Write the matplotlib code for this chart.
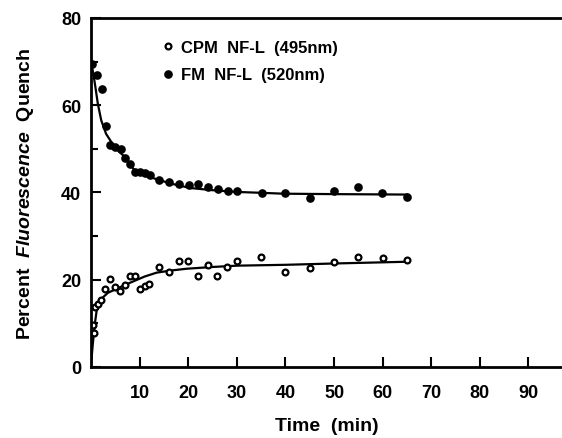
import numpy as np
import matplotlib
matplotlib.use("Agg")
import matplotlib.pyplot as plt

plt.rcParams['font.family'] = 'Liberation Sans'
plt.rcParams['font.weight'] = 'bold'
plt.rcParams['mathtext.fontset'] = 'custom'
plt.rcParams['mathtext.rm'] = 'Liberation Sans:bold'
plt.rcParams['mathtext.it'] = 'Liberation Sans:italic:bold'

# FM NF-L (520nm), filled circles
fm_t = [0.1, 1.2, 2.2, 3.1, 3.9, 4.9, 6.1, 7.0, 8.0, 9.1, 10.1, 11.1, 12.1,
        14.0, 16.0, 18.1, 20.2, 22.0, 24.1, 26.1, 28.2, 30.0, 35.1, 40.0,
        45.1, 50.0, 54.9, 59.9, 65.0]
fm_q = [69.5, 66.8, 63.8, 55.3, 50.8, 50.5, 50.0, 47.9, 46.6, 44.7, 44.7, 44.5, 44.0,
        42.9, 42.4, 42.0, 41.7, 42.0, 41.3, 40.8, 40.4, 40.4, 39.9, 39.9,
        38.8, 40.3, 41.2, 39.9, 38.9]

# CPM NF-L (495nm), open circles
cpm_t = [0.4, 0.6, 0.9, 1.4, 2.0, 2.9, 4.0, 4.9, 6.0, 7.0, 8.0, 9.0, 10.0, 11.0, 12.0,
         14.0, 16.0, 18.0, 20.0, 22.0, 24.0, 26.0, 28.0, 30.0, 35.0, 40.0,
         45.0, 50.0, 55.0, 60.0, 65.0]
cpm_q = [9.5, 7.7, 13.7, 14.5, 15.3, 17.8, 20.1, 18.3, 17.5, 18.8, 20.9, 20.9, 17.9, 18.5, 19.0,
         22.8, 21.7, 24.2, 24.2, 20.9, 23.4, 20.9, 22.8, 24.2, 25.2, 21.8,
         22.6, 24.0, 25.1, 24.9, 24.6]

# fitted curves
fm_fit_t = [0.0, 0.5, 0.9, 1.4, 2.1, 3.1, 4.2, 5.3, 6.6, 7.6, 8.7, 10.5, 13.5, 16.5,
            20.4, 25.0, 30.0, 35.0, 39.6, 50.0, 65.0]
fm_fit_q = [70.0, 67.0, 64.1, 60.3, 56.5, 53.4, 51.5, 49.8, 48.5, 46.9, 45.4, 44.2, 43.0, 42.0,
            41.0, 40.5, 40.1, 39.9, 39.7, 39.6, 39.5]
cpm_fit_t = [0.0, 0.15, 0.3, 0.5, 0.8, 1.2, 1.8, 2.5, 3.5, 5.3, 7.0, 8.7, 11.0, 13.5,
             16.5, 19.7, 25.0, 30.0, 40.1, 50.0, 65.0]
cpm_fit_q = [0.3, 2.5, 4.5, 6.8, 10.0, 13.3, 14.9, 16.0, 17.0, 17.9, 18.8, 19.6, 20.7, 21.6,
             22.1, 22.5, 22.9, 23.2, 23.4, 23.7, 24.1]

fig = plt.figure(figsize=(5.62, 4.39), dpi=100)
ax = fig.add_axes([0.162, 0.162, 0.838, 0.795])

ax.plot(fm_fit_t, fm_fit_q, color='black', lw=1.6)
ax.plot(cpm_fit_t, cpm_fit_q, color='black', lw=1.6)
ax.plot(cpm_t, cpm_q, 'o', mfc='white', mec='black', mew=1.6, ms=4.2,
        label='CPM  NF-L  (495nm)')
ax.plot(fm_t, fm_q, 'o', color='black', ms=5.2, label='FM  NF-L  (520nm)')

ax.set_xlim(0, 96.9)
ax.set_ylim(0, 80)
ax.set_xticks([10, 20, 30, 40, 50, 60, 70, 80, 90])
ax.set_yticks([0, 20, 40, 60, 80])
ax.set_yticks([10, 30, 50, 70], minor=True)
ax.tick_params(axis='both', which='both', direction='in', width=1.5)
ax.tick_params(axis='both', which='major', length=7, labelsize=13)
ax.tick_params(axis='y', which='minor', length=5)
ax.tick_params(axis='x', pad=12)
ax.tick_params(axis='y', pad=7)
for lab in ax.get_xticklabels() + ax.get_yticklabels():
    lab.set_fontweight('bold')

for s in ['left', 'bottom', 'top']:
    ax.spines[s].set_linewidth(2)
ax.spines['right'].set_visible(False)

ax.set_xlabel('Time  (min)', fontsize=14, fontweight='bold', labelpad=12)
ax.set_ylabel(r'Percent  $\mathit{Fluorescence}$  Quench', fontsize=14,
              fontweight='bold', labelpad=18)

leg = ax.legend(loc='upper left', bbox_to_anchor=(0.11, 0.98), frameon=False,
                handletextpad=0.2, labelspacing=0.75, handlelength=1.2,
                prop={'weight': 'bold', 'size': 12})

fig.savefig('out.png', dpi=100)
